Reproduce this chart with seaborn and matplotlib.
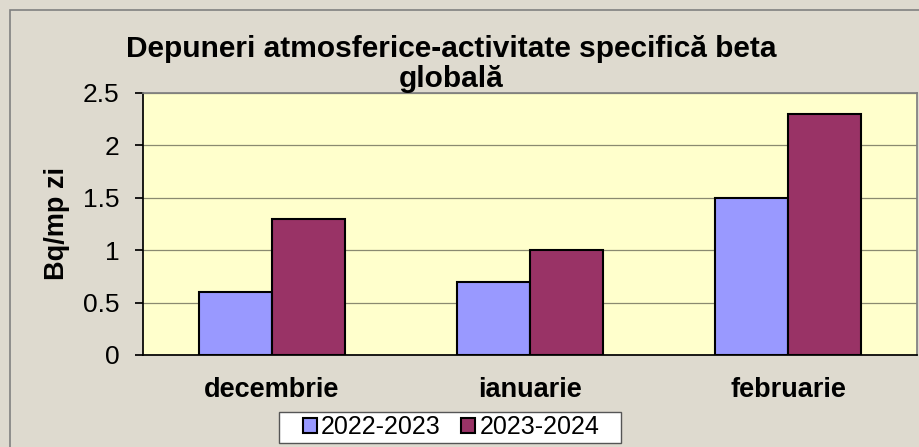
import pandas as pd
import matplotlib
matplotlib.use("Agg")
import matplotlib.pyplot as plt
import seaborn as sns
from matplotlib.patches import Rectangle

# data
months = ["decembrie", "ianuarie", "februarie"]
seasons = ["2022-2023", "2023-2024"]
vals_2022 = [0.6, 0.7, 1.5]
vals_2023 = [1.3, 1.0, 2.3]

df = pd.DataFrame({
    "luna": months * 2,
    "sezon": [seasons[0]] * 3 + [seasons[1]] * 3,
    "val": vals_2022 + vals_2023,
})

sns.set_theme(style="white")
plt.rcParams["font.family"] = ["Liberation Sans", "DejaVu Sans"]
plt.rcParams.update({"text.color": "black", "axes.labelcolor": "black",
                     "xtick.color": "black", "ytick.color": "black"})

W, H = 919, 447
fig = plt.figure(figsize=(W / 100, H / 100), dpi=100)
fig.patch.set_facecolor("#DEDACF")
fig.patches.append(Rectangle((10 / W, -0.1), 2, 1.1 - 10 / H, transform=fig.transFigure,
                             fill=False, edgecolor="#808080", lw=1.2))

ax = fig.add_axes([143 / W, 1 - 355 / H, (917 - 143) / W, (355 - 93) / H])
ax.set_facecolor("#FFFFCC")

sns.barplot(data=df, x="luna", y="val", hue="sezon", order=months, hue_order=seasons,
            palette=["#9999FF", "#993366"], width=0.565, edgecolor="black", linewidth=1.5,
            saturation=1, ax=ax, zorder=3)

ax.set_ylim(0, 2.5)
ax.set_yticks([0, 0.5, 1, 1.5, 2, 2.5])
ax.set_yticklabels(["0", "0.5", "1", "1.5", "2", "2.5"], fontsize=19)
ax.yaxis.grid(True, color="#8A8A70", lw=0.9, zorder=0)
ax.set_xlim(-0.5, 2.5)
ax.set_xticks([-0.5, 0.5, 1.5, 2.5], minor=True)
ax.set_xticklabels(months, fontsize=19.5, fontweight="bold")
ax.tick_params(axis="x", which="major", length=0, pad=16)
ax.tick_params(axis="x", which="minor", length=6, color="black")
ax.tick_params(axis="y", length=6, color="black", left=True, pad=11)
ax.set_xlabel("")
ax.set_ylabel("Bq/mp zi", fontsize=19.5, fontweight="bold", labelpad=9)

for s in ["top", "right"]:
    ax.spines[s].set_color("#808080")
for s in ["left", "bottom"]:
    ax.spines[s].set_color("black")

fig.text(0.491, 1 - 64 / H, "Depuneri atmosferice-activitate specifică beta\nglobală",
         ha="center", va="center", fontsize=21.5, fontweight="bold", linespacing=1.05)

# legend: white box drawn separately, legend itself without frame
handles, labels = ax.get_legend_handles_labels()
ax.get_legend().remove()
fig.patches.append(Rectangle((279 / W, 1 - 443 / H), (621 - 279) / W, 31 / H,
                             transform=fig.transFigure, facecolor="white",
                             edgecolor="#555555", lw=1, zorder=4))
leg = fig.legend(handles, labels, loc="center", bbox_to_anchor=(451 / W, 1 - 427.5 / H),
                 ncol=2, fontsize=18, frameon=False,
                 handlelength=0.56, handleheight=0.56, handletextpad=0.16,
                 columnspacing=0.84, borderpad=0.1)
leg.set_zorder(5)

fig.savefig("out.png", dpi=100, facecolor=fig.get_facecolor())
